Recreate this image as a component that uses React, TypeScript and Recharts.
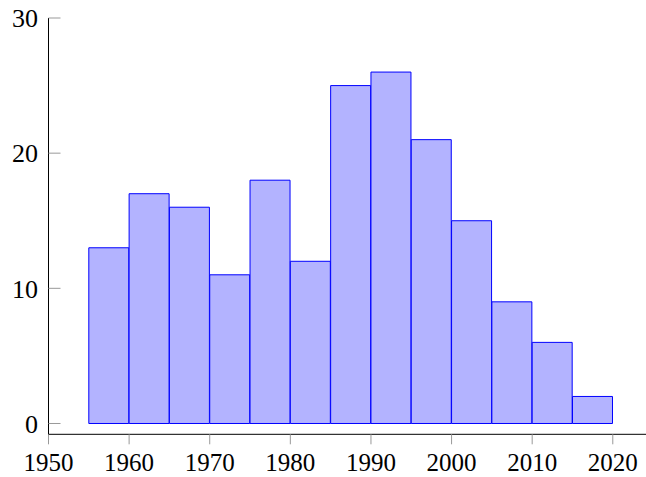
import React from 'react';
import { BarChart, Bar, XAxis, YAxis } from 'recharts';

const binCenters = [1957.5, 1962.5, 1967.5, 1972.5, 1977.5, 1982.5, 1987.5, 1992.5, 1997.5, 2002.5, 2007.5, 2012.5, 2017.5];
const counts = [13, 17, 16, 11, 18, 12, 25, 26, 21, 15, 9, 6, 2];
const xTicks = [1950, 1960, 1970, 1980, 1990, 2000, 2010, 2020];
const yTicks = [0, 10, 20, 30];

const data = binCenters.map((c, i) => ({ year: c, count: counts[i] }));

const FONT = '"Liberation Serif", "Times New Roman", serif';

const LeftTick = (props: any) => {
  const { x, y, payload } = props;
  return (
    <g>
      <line x1={x + 10.5} x2={x + 22.5} y1={y} y2={y} stroke="#999" strokeWidth={1} />
      <text x={x} y={y} dy="0.355em" textAnchor="end" fontSize={26} fontFamily={FONT} fill="#000">
        {payload.value}
      </text>
    </g>
  );
};

const Empty = () => <g />;

export default function App() {
  return (
    <div style={{ position: 'absolute', left: 0, top: 0, width: 646, height: 477, overflow: 'hidden', background: '#fff' }}>
      <BarChart
        width={660}
        height={477}
        data={data}
        margin={{ top: 18, right: 6.9, bottom: 0, left: 0 }}
        barCategoryGap={0}
        barGap={0}
      >
        <XAxis
          xAxisId="bottom"
          dataKey="year"
          type="number"
          domain={[1950, 2025]}
          ticks={xTicks}
          allowDataOverflow
          orientation="bottom"
          height={42.7}
          tickSize={10}
          tickMargin={9.4}
          axisLine={{ stroke: '#000', strokeWidth: 1 }}
          tickLine={{ stroke: '#999', strokeWidth: 1 }}
          tick={{ fontSize: 25, fontFamily: FONT, fill: '#000' }}
          interval={0}
        />
        <XAxis
          xAxisId="top"
          dataKey="year"
          type="number"
          domain={[1950, 2025]}
          ticks={xTicks}
          allowDataOverflow
          orientation="top"
          height={0}
          tickSize={11}
          axisLine={{ stroke: '#000', strokeWidth: 1 }}
          tickLine={{ stroke: '#999', strokeWidth: 1 }}
          tick={<Empty />}
          interval={0}
        />
        <YAxis
          yAxisId="left"
          type="number"
          domain={[-0.8, 30]}
          ticks={yTicks}
          allowDataOverflow
          width={48.5}
          tickSize={0}
          tickMargin={10.5}
          tickLine={false}
          axisLine={{ stroke: '#000', strokeWidth: 1 }}
          tick={<LeftTick />}
          interval={0}
        />
        <YAxis
          yAxisId="right"
          orientation="right"
          type="number"
          domain={[-0.8, 30]}
          ticks={yTicks}
          allowDataOverflow
          width={0}
          mirror
          tickSize={12}
          tickLine={{ stroke: '#999', strokeWidth: 1 }}
          axisLine={{ stroke: '#000', strokeWidth: 1 }}
          tick={<Empty />}
          interval={0}
        />
        <Bar
          xAxisId="bottom"
          yAxisId="left"
          dataKey="count"
          fill="#b3b3ff"
          stroke="#0000ff"
          strokeWidth={1}
          isAnimationActive={false}
        />
      </BarChart>
    </div>
  );
}
